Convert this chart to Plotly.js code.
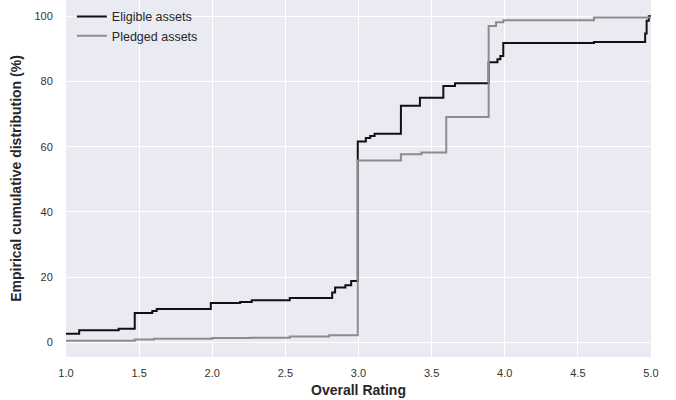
<!DOCTYPE html>
<html>
<head>
<meta charset="utf-8">
<script src="https://cdn.plot.ly/plotly-3.0.1.min.js"></script>
<style>html,body{margin:0;padding:0;background:#fff;}#chart{width:676px;height:400px;}</style>
</head>
<body>
<div id="chart"></div>
<script>
// Eligible assets (step ECDF)
const eligibleX = [1.0, 1.09, 1.36, 1.47, 1.59, 1.62, 1.99, 2.19, 2.27, 2.53, 2.82, 2.84, 2.91, 2.95, 2.995, 3.05, 3.08, 3.11, 3.29, 3.42, 3.58, 3.66, 3.89, 3.95, 3.97, 3.99, 4.61, 4.96, 4.97, 4.985, 5.0];
const eligibleY = [2.6, 3.7, 4.2, 9.0, 9.6, 10.2, 12.1, 12.4, 12.9, 13.6, 15.3, 16.8, 17.5, 18.8, 61.6, 62.7, 63.3, 64.0, 72.6, 75.0, 78.6, 79.5, 85.9, 86.8, 87.8, 91.8, 92.1, 94.7, 98.6, 100, 100];
// Pledged assets (step ECDF)
const pledgedX = [1.0, 1.47, 1.6, 2.0, 2.26, 2.53, 2.8, 2.995, 3.29, 3.43, 3.6, 3.89, 3.94, 3.99, 4.61, 5.0];
const pledgedY = [0.5, 0.9, 1.1, 1.3, 1.4, 1.8, 2.2, 55.8, 57.7, 58.2, 69.1, 97.0, 98.2, 98.8, 99.6, 100];

const xTicks = [1.0, 1.5, 2.0, 2.5, 3.0, 3.5, 4.0, 4.5, 5.0];
const yTicks = [0, 20, 40, 60, 80, 100];

const traces = [
  {x: eligibleX, y: eligibleY, name: 'Eligible assets', mode: 'lines',
   line: {shape: 'hv', color: '#111111', width: 2}},
  {x: pledgedX, y: pledgedY, name: 'Pledged assets', mode: 'lines',
   line: {shape: 'hv', color: '#8c8c8c', width: 2}}
];

const layout = {
  width: 676, height: 400,
  margin: {l: 66, r: 25, t: 0, b: 43},
  paper_bgcolor: '#ffffff',
  plot_bgcolor: '#EAEAF2',
  font: {family: 'Liberation Sans, Arial, sans-serif', color: '#262626', size: 11},
  showlegend: true,
  legend: {x: 0.01, y: 0.995, xanchor: 'left', yanchor: 'top', bgcolor: 'rgba(0,0,0,0)',
           font: {size: 12.5, color: '#262626'}, tracegroupgap: 0},
  xaxis: {range: [1, 5], tickvals: xTicks, ticktext: xTicks.map(v => v.toFixed(1)),
          showgrid: true, gridcolor: '#ffffff', gridwidth: 1, zeroline: false, showline: false,
          ticks: 'outside', ticklen: 6, tickcolor: 'rgba(0,0,0,0)', tickfont: {size: 11, color: '#333333'},
          title: {text: '<b>Overall Rating</b>', font: {size: 14, color: '#262626'}, standoff: 6}},
  yaxis: {range: [-4.5, 105], tickvals: yTicks,
          showgrid: true, gridcolor: '#ffffff', gridwidth: 1, zeroline: false, showline: false,
          ticks: 'outside', ticklen: 10, tickcolor: 'rgba(0,0,0,0)', tickfont: {size: 11, color: '#333333'},
          title: {text: '<b>Empirical cumulative distribution (%)</b>', font: {size: 14, color: '#262626'}, standoff: 9}}
};

Plotly.newPlot('chart', traces, layout, {displayModeBar: false, staticPlot: true});
</script>
</body>
</html>
